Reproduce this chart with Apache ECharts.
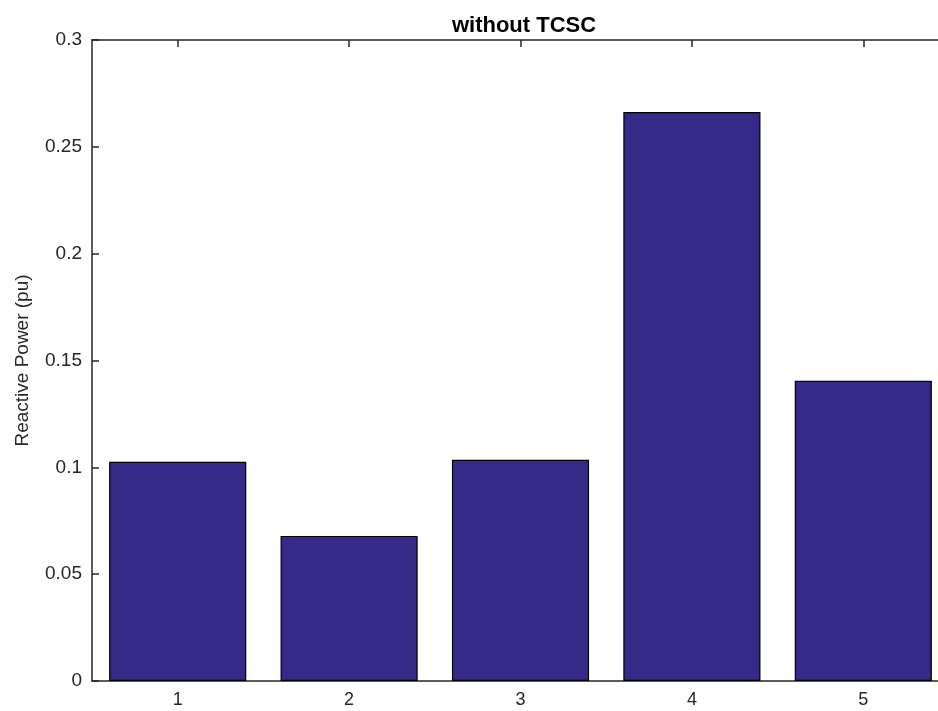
<!DOCTYPE html>
<html>
<head>
<meta charset="utf-8">
<script src="https://cdn.jsdelivr.net/npm/echarts@6/dist/echarts.min.js"></script>
<style>html,body{margin:0;padding:0;background:#fff;overflow:hidden;width:938px;height:711px}#c{width:960px;height:711px}</style>
</head>
<body>
<div id="c"></div>
<script>
const categories = ['1', '2', '3', '4', '5'];
const reactivePower = [0.1026, 0.0679, 0.1035, 0.2663, 0.1405];
const yTicks = { min: 0, max: 0.3, interval: 0.05 };

const chart = echarts.init(document.getElementById('c'));
const axisColor = '#262626';
const font = 'Liberation Sans, Arial, Helvetica, sans-serif';
const tickStyle = { show: true, inside: true, alignWithLabel: true, length: 7, lineStyle: { color: axisColor, width: 1.5 } };
chart.setOption({
  animation: false,
  title: {
    text: 'without TCSC',
    left: 519, top: 10, textAlign: 'center',
    textStyle: { fontFamily: font, fontWeight: 'bold', fontSize: 22, color: '#000' }
  },
  grid: { left: 92, right: 11, top: 40, bottom: 30, containLabel: false },
  xAxis: [{
    type: 'category', data: categories, position: 'bottom',
    axisLine: { show: true, lineStyle: { color: axisColor, width: 1.5 } },
    axisTick: tickStyle,
    axisLabel: { margin: 10, fontFamily: font, fontSize: 18, color: '#262626' },
    splitLine: { show: false }
  }, {
    type: 'category', data: categories, position: 'top',
    axisLine: { show: true, lineStyle: { color: axisColor, width: 1.5 } },
    axisTick: tickStyle,
    axisLabel: { show: false }, splitLine: { show: false }
  }],
  yAxis: [{
    type: 'value', min: yTicks.min, max: yTicks.max, interval: yTicks.interval,
    name: 'Reactive Power (pu)', nameLocation: 'middle', nameGap: 60, nameRotate: 90,
    nameTextStyle: { fontFamily: font, fontSize: 19, color: '#262626' },
    axisLine: { show: true, lineStyle: { color: axisColor, width: 1.5 } },
    axisTick: { show: true, inside: true, length: 7, lineStyle: { color: axisColor, width: 1.5 } },
    axisLabel: { margin: 10, fontFamily: font, fontSize: 19, color: '#262626' },
    splitLine: { show: false }
  }],
  series: [{
    type: 'bar', data: reactivePower, barWidth: '80%', xAxisIndex: 0,
    itemStyle: { color: '#352a87', borderColor: '#000', borderWidth: 1.2 }
  }]
});
</script>
</body>
</html>
